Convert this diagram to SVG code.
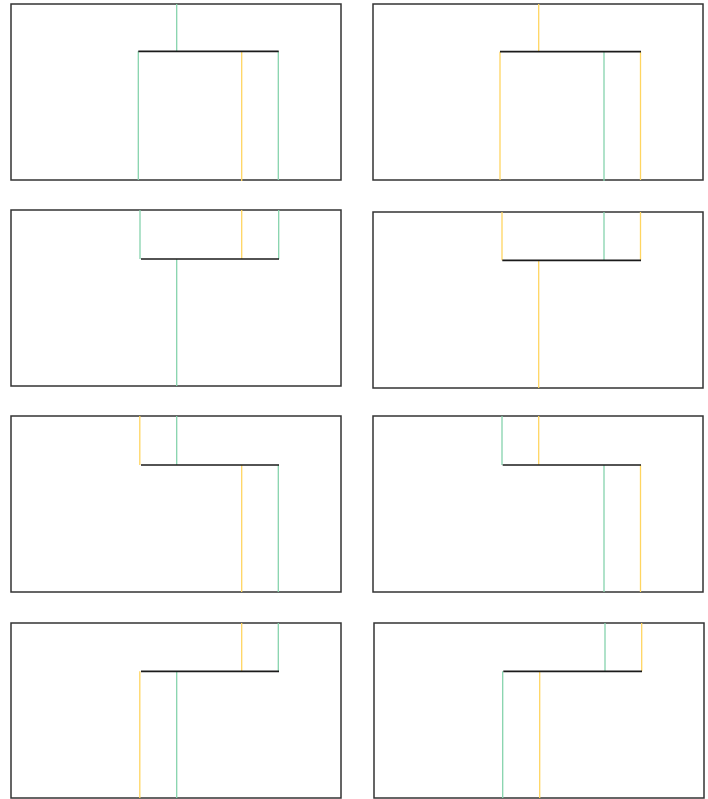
<svg xmlns="http://www.w3.org/2000/svg" width="708" height="799" viewBox="0 0 708 799">
<style>
.frame{fill:#fff;stroke:#333;stroke-width:1.5}
.bar{stroke:#1a1a1a;stroke-width:1.7;fill:none}
.g{stroke:#86d3ad;stroke-width:1.3;fill:none}
.y{stroke:#ffd561;stroke-width:1.3;fill:none}
</style>
<rect width="708" height="799" fill="#fff"/>
<g id="panel1">
<rect class="frame" x="11" y="4" width="330" height="176"/>
</g>
<g id="panel2">
<rect class="frame" x="373" y="4" width="330" height="176"/>
</g>
<g id="panel3">
<rect class="frame" x="11" y="210" width="330" height="176"/>
</g>
<g id="panel4">
<rect class="frame" x="373" y="212" width="330" height="176"/>
</g>
<g id="panel5">
<rect class="frame" x="11" y="416" width="330" height="176"/>
</g>
<g id="panel6">
<rect class="frame" x="373" y="416" width="330" height="176"/>
</g>
<g id="panel7">
<rect class="frame" x="11" y="623" width="330" height="175"/>
</g>
<g id="panel8">
<rect class="frame" x="374" y="623" width="330" height="175"/>
</g>
<g id="connectors">
<!-- panel 1 -->
<line class="g" x1="176.7" y1="4" x2="176.7" y2="51.3"/>
<line class="g" x1="138.3" y1="51.3" x2="138.3" y2="180"/>
<line class="y" x1="241.7" y1="51.3" x2="241.7" y2="181"/>
<line class="g" x1="278.3" y1="51.3" x2="278.3" y2="180"/>
<line class="bar" x1="138.3" y1="51.3" x2="278.7" y2="51.3"/>
<!-- panel 2 -->
<line class="y" x1="538.7" y1="4" x2="538.7" y2="51.7"/>
<line class="y" x1="500" y1="51.7" x2="500" y2="180"/>
<line class="g" x1="604" y1="51.7" x2="604" y2="181"/>
<line class="y" x1="640.5" y1="51.7" x2="640.5" y2="180"/>
<line class="bar" x1="500" y1="51.7" x2="641" y2="51.7"/>
<!-- panel 3 -->
<line class="g" x1="140" y1="210" x2="140" y2="259"/>
<line class="y" x1="241.7" y1="210" x2="241.7" y2="259"/>
<line class="g" x1="278.7" y1="210" x2="278.7" y2="259"/>
<line class="g" x1="176.7" y1="259" x2="176.7" y2="386"/>
<line class="bar" x1="141" y1="259" x2="279" y2="259"/>
<!-- panel 4 -->
<line class="y" x1="502" y1="212" x2="502" y2="260.3"/>
<line class="g" x1="604" y1="212" x2="604" y2="260.3"/>
<line class="y" x1="640.5" y1="212" x2="640.5" y2="260.3"/>
<line class="y" x1="538.7" y1="260.3" x2="538.7" y2="388"/>
<line class="bar" x1="502.3" y1="260.3" x2="641" y2="260.3"/>
<!-- panel 5 -->
<line class="y" x1="139.8" y1="416" x2="139.8" y2="465"/>
<line class="g" x1="176.7" y1="416" x2="176.7" y2="465"/>
<line class="y" x1="241.7" y1="465" x2="241.7" y2="592"/>
<line class="g" x1="278.3" y1="465" x2="278.3" y2="592"/>
<line class="bar" x1="141" y1="465" x2="279" y2="465"/>
<!-- panel 6 -->
<line class="g" x1="502" y1="416" x2="502" y2="465"/>
<line class="y" x1="538.7" y1="416" x2="538.7" y2="465"/>
<line class="g" x1="604" y1="465" x2="604" y2="592"/>
<line class="y" x1="640.5" y1="465" x2="640.5" y2="592"/>
<line class="bar" x1="502.7" y1="465" x2="641" y2="465"/>
<!-- panel 7 -->
<line class="y" x1="241.7" y1="623" x2="241.7" y2="671.3"/>
<line class="g" x1="278.3" y1="623" x2="278.3" y2="671.3"/>
<line class="y" x1="139.8" y1="671.3" x2="139.8" y2="798"/>
<line class="g" x1="176.7" y1="671.3" x2="176.7" y2="798"/>
<line class="bar" x1="141" y1="671.3" x2="279" y2="671.3"/>
<!-- panel 8 -->
<line class="g" x1="605" y1="623" x2="605" y2="671.3"/>
<line class="y" x1="641.7" y1="623" x2="641.7" y2="671.3"/>
<line class="g" x1="502.7" y1="671.3" x2="502.7" y2="798"/>
<line class="y" x1="539.7" y1="671.3" x2="539.7" y2="798"/>
<line class="bar" x1="503.3" y1="671.3" x2="642" y2="671.3"/>
</g>
</svg>
